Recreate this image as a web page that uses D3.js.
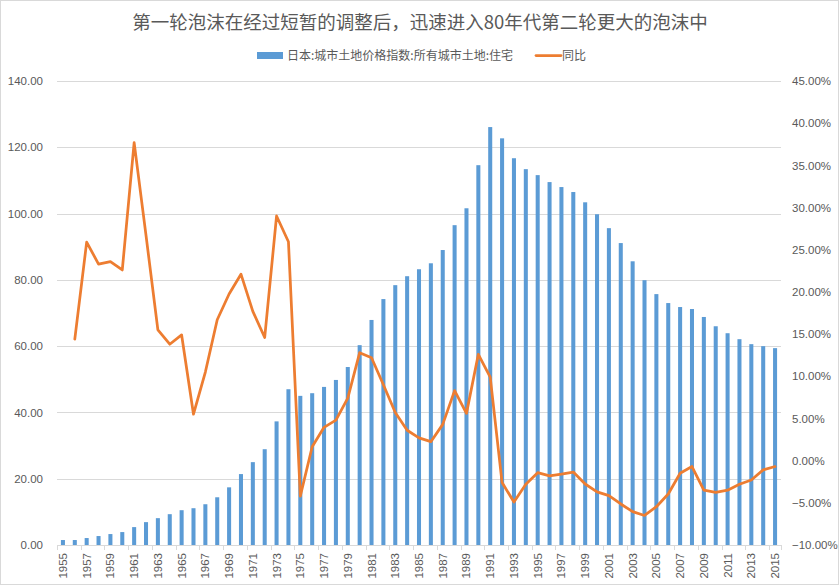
<!DOCTYPE html>
<html>
<head>
<meta charset="utf-8">
<script src="https://cdn.jsdelivr.net/npm/d3@7"></script>
<style>
  html, body { margin: 0; padding: 0; background: #fff; }
  svg { display: block; font-family: "Noto Sans CJK SC", "Noto Sans", sans-serif; }
</style>
</head>
<body>
<svg id="chart" width="840" height="586"></svg>
<script>
// ---------- data ----------
const titleText = "第一轮泡沫在经过短暂的调整后，迅速进入80年代第二轮更大的泡沫中";
const barSeriesName = "日本:城市土地价格指数:所有城市土地:住宅";
const lineSeriesName = "同比";

const years = d3.range(1955, 2016).map(String);

const priceIndex = [
  1.5, 1.5, 2.1, 2.7, 3.3, 3.9, 5.4, 6.9, 8.1, 9.3,
  10.5, 11.1, 12.3, 14.4, 17.4, 21.4, 25.0, 28.9, 37.3, 47.0,
  45.0, 45.8, 47.7, 49.8, 53.7, 60.3, 67.9, 74.2, 78.4, 81.1,
  83.2, 85.0, 89.0, 96.5, 101.6, 114.6, 126.1, 122.7, 116.7, 113.4,
  111.6, 109.5, 108.0, 106.5, 103.4, 99.8, 95.6, 91.1, 85.6, 79.9,
  75.7, 73.0, 71.8, 71.2, 68.8, 66.0, 63.9, 62.1, 60.6, 60.0,
  59.4
];

// YoY (%); 1955 has no value
const yoy = [
  null, 14.4, 25.9, 23.3, 23.6, 22.6, 37.7, 26.7, 15.5, 13.8,
  14.9, 5.5, 10.5, 16.7, 19.75, 22.1, 17.7, 14.6, 29.0, 25.95,
  -4.2, 1.65, 3.95, 4.8, 7.4, 12.8, 12.2, 9.0, 5.7, 3.6,
  2.7, 2.25, 4.3, 8.3, 5.6, 12.6, 9.9, -2.6, -4.9, -2.8,
  -1.43, -1.8, -1.6, -1.35, -2.77, -3.7, -4.15, -5.14, -6.05, -6.5,
  -5.46, -3.95, -1.5, -0.7, -3.5, -3.75, -3.5, -2.8, -2.3, -1.1,
  -0.7
];

const leftTicks = [0, 20, 40, 60, 80, 100, 120, 140];
const rightTicks = [-10, -5, 0, 5, 10, 15, 20, 25, 30, 35, 40, 45];

// ---------- layout ----------
const svg = d3.select("#chart");
const W = 840, H = 586;
const plot = { left: 57, right: 781, top: 81, bottom: 545 };
const gridColor = "#d9d9d9";
const textColor = "#595959";
const barColor = "#5B9BD5";
const lineColor = "#ED7D31";

// border
svg.append("rect")
  .attr("x", 0.5).attr("y", 0.5)
  .attr("width", 838).attr("height", 584)
  .attr("fill", "#fff").attr("stroke", gridColor).attr("stroke-width", 1);

const x = d3.scaleBand().domain(years).range([plot.left, plot.right]).paddingInner(0.66).paddingOuter(0.33);
const xCenter = d => x(d) + x.bandwidth() / 2;
const yL = d3.scaleLinear().domain([0, 140]).range([plot.bottom, plot.top]);
const yR = d3.scaleLinear().domain([-10, 45]).range([plot.bottom, plot.top]);

// gridlines
svg.append("g")
  .selectAll("line")
  .data(leftTicks.slice(1))
  .join("line")
  .attr("x1", plot.left).attr("x2", plot.right)
  .attr("y1", d => Math.round(yL(d)) + 0.5).attr("y2", d => Math.round(yL(d)) + 0.5)
  .attr("stroke", gridColor).attr("stroke-width", 1);

// left axis labels
const leftAxis = d3.axisLeft(yL).tickValues(leftTicks).tickFormat(d3.format(".2f")).tickSize(0).tickPadding(14);
const gL = svg.append("g").attr("transform", `translate(${plot.left},0)`).call(leftAxis);
gL.select(".domain").remove();
gL.selectAll("text").attr("fill", textColor).style("font-size", "11.5px").style("font-family", "'Liberation Sans', Arial, sans-serif");

// right axis labels
const rightAxis = d3.axisRight(yR).tickValues(rightTicks).tickFormat(d => d3.format(".2f")(d) + "%").tickSize(0).tickPadding(11);
const gR = svg.append("g").attr("transform", `translate(${plot.right},0)`).call(rightAxis);
gR.select(".domain").remove();
gR.selectAll("text").attr("fill", textColor).style("font-size", "11.5px").style("font-family", "'Liberation Sans', Arial, sans-serif");

// bars
svg.append("g")
  .selectAll("rect")
  .data(years)
  .join("rect")
  .attr("x", d => x(d))
  .attr("width", x.bandwidth())
  .attr("y", (d, i) => yL(priceIndex[i]))
  .attr("height", (d, i) => yL(0) - yL(priceIndex[i]))
  .attr("fill", barColor);

// x axis
const step = x.step();
const xAxisG = svg.append("g");
xAxisG.append("line")
  .attr("x1", plot.left).attr("x2", plot.right)
  .attr("y1", plot.bottom + 0.5).attr("y2", plot.bottom + 0.5)
  .attr("stroke", gridColor);
const tickYears = years.filter((d, i) => i % 2 === 0);
xAxisG.selectAll("line.tick")
  .data(tickYears.concat(["end"]))
  .join("line")
  .attr("class", "tick")
  .attr("x1", (d, i) => Math.round(plot.left + i * 2 * step > plot.right ? plot.right : plot.left + i * 2 * step) + 0.5)
  .attr("x2", (d, i) => Math.round(plot.left + i * 2 * step > plot.right ? plot.right : plot.left + i * 2 * step) + 0.5)
  .attr("y1", plot.bottom).attr("y2", plot.bottom + 5)
  .attr("stroke", gridColor);
xAxisG.selectAll("text")
  .data(tickYears)
  .join("text")
  .attr("transform", d => `translate(${xCenter(d) + 4},${plot.bottom + 8}) rotate(-90)`)
  .attr("text-anchor", "end")
  .attr("fill", textColor)
  .style("font-size", "11.5px")
  .style("font-family", "'Liberation Sans', Arial, sans-serif")
  .text(d => d);

// line
const lineData = years.map((d, i) => ({ year: d, v: yoy[i] })).filter(p => p.v !== null);
const lineGen = d3.line().x(p => xCenter(p.year)).y(p => yR(p.v));
svg.append("path")
  .datum(lineData)
  .attr("d", lineGen)
  .attr("fill", "none")
  .attr("stroke", lineColor)
  .attr("stroke-width", 2.75)
  .attr("stroke-linejoin", "round")
  .attr("stroke-linecap", "round");

// title
svg.append("text")
  .attr("x", 420).attr("y", 29)
  .attr("text-anchor", "middle")
  .attr("fill", textColor)
  .style("font-size", "18.5px")
  .text(titleText);

// legend
const lg = svg.append("g");
lg.append("rect").attr("x", 257).attr("y", 52).attr("width", 26).attr("height", 7).attr("fill", barColor);
lg.append("text").attr("x", 287).attr("y", 60).attr("fill", textColor).style("font-size", "12px").text(barSeriesName);
lg.append("line").attr("x1", 536).attr("x2", 561).attr("y1", 55.5).attr("y2", 55.5)
  .attr("stroke", lineColor).attr("stroke-width", 2.75).attr("stroke-linecap", "round");
lg.append("text").attr("x", 562).attr("y", 60).attr("fill", textColor).style("font-size", "12px").text(lineSeriesName);
</script>
</body>
</html>
